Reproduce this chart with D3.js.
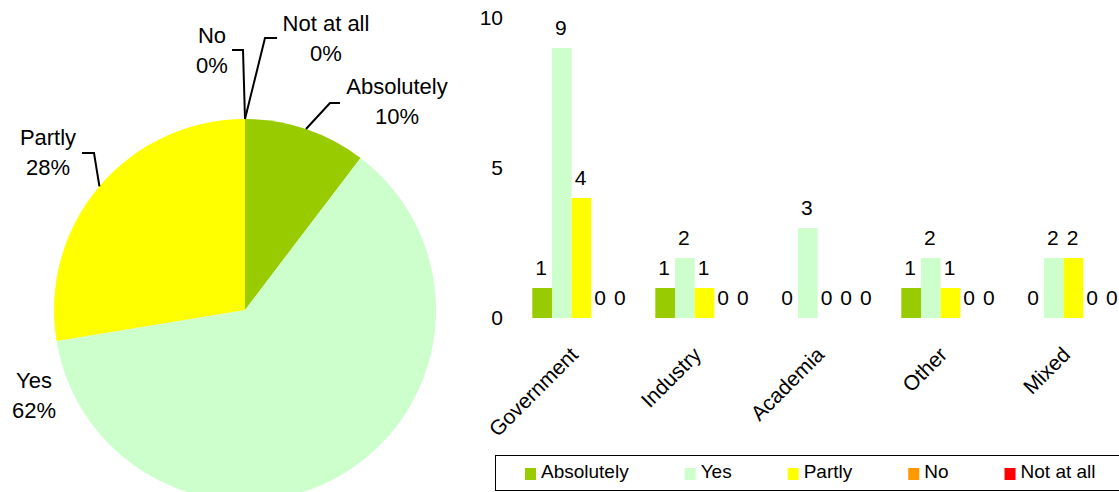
<!DOCTYPE html>
<html lang="en">
<head>
  <meta charset="UTF-8">
  <title>Survey responses - pie and grouped bars</title>
  <script src="https://d3js.org/d3.v7.min.js"></script>
  <style>
    body {
      margin: 0;
      background: #fff;
    }
    svg text {
      font-family: "Liberation Sans", Arial, sans-serif;
      fill: #000;
    }
    .pie-label { font-size: 22px; }
    .val-label { font-size: 21px; }
    .tick text { font-size: 21px; }
    .legend text { font-size: 19px; }
  </style>
</head>
<body>
  <svg width="1119" height="492"></svg>

  <script>
    // data
    const categories = ["Government", "Industry", "Academia", "Other", "Mixed"];
    const seriesNames = ["Absolutely", "Yes", "Partly", "No", "Not at all"];
    const absolutely = [1, 1, 0, 1, 0];
    const yes = [9, 2, 3, 2, 2];
    const partly = [4, 1, 0, 1, 2];
    const no = [0, 0, 0, 0, 0];
    const notAtAll = [0, 0, 0, 0, 0];
    const pieCounts = [3, 18, 8, 0, 0];
    const yTicks = [0, 5, 10];

    const colors = ["#99cc00", "#ccffcc", "#ffff00", "#ff9900", "#ff0000"];
    const seriesValues = [absolutely, yes, partly, no, notAtAll];

    const svg = d3.select("svg");

    // ---------- pie ----------
    const cx = 245, cy = 310, r = 191;
    const pieG = svg.append("g").attr("transform", `translate(${cx},${cy})`);

    const pie = d3.pie().sort(null).value(d => d);
    const arcs = pie(pieCounts);
    const arc = d3.arc().innerRadius(0).outerRadius(r);

    pieG.selectAll("path.slice")
      .data(arcs)
      .enter()
      .append("path")
        .attr("class", "slice")
        .attr("d", arc)
        .attr("fill", (d, i) => colors[i]);

    // label placement relative to the pie centre (hand placed, like the original)
    const labelLayout = {
      "Absolutely": {tx: 152, ty: -216, leader: [[85, -207], [95, -207]]},
      "Yes":        {tx: -211, ty: 78, leader: null},
      "Partly":     {tx: -197, ty: -165, leader: [[-151, -157], [-163, -157]]},
      "No":         {tx: -33, ty: -267, leader: [[-2, -260], [-13, -260]]},
      "Not at all": {tx: 81, ty: -279, leader: [[20, -272], [32, -272]]}
    };

    const total = d3.sum(pieCounts);
    arcs.forEach((a, i) => {
      const name = seriesNames[i];
      const L = labelLayout[name];
      if (L.leader) {
        const mid = (a.startAngle + a.endAngle) / 2;
        const start = [Math.sin(mid) * r, -Math.cos(mid) * r];
        pieG.append("path")
          .attr("d", d3.line()([start, ...L.leader]))
          .attr("fill", "none")
          .attr("stroke", "#000")
          .attr("stroke-width", 2);
      }
      const t = pieG.append("text")
        .attr("class", "pie-label")
        .attr("text-anchor", "middle")
        .attr("x", L.tx)
        .attr("y", L.ty);
      t.append("tspan").attr("x", L.tx).text(name);
      t.append("tspan").attr("x", L.tx).attr("dy", 30)
        .text(Math.round(a.data / total * 100) + "%");
    });

    // ---------- grouped bars ----------
    const x0 = d3.scaleBand()
      .domain(categories)
      .range([520, 1135])
      .paddingInner(0.2)
      .paddingOuter(0.1);

    const x1 = d3.scaleBand()
      .domain(seriesNames)
      .range([0, x0.bandwidth()]);

    const y = d3.scaleLinear().domain([0, 10]).range([318, 18]);

    // y axis labels only
    svg.append("g")
      .attr("transform", "translate(503,0)")
      .call(d3.axisLeft(y).tickValues(yTicks).tickSize(0).tickPadding(0))
      .call(g => g.select(".domain").remove())
      .selectAll("text")
        .attr("font-family", null)
        .attr("font-size", null);

    // category labels
    svg.append("g")
      .attr("transform", "translate(-2,356)")
      .call(d3.axisBottom(x0).tickSize(0))
      .call(g => g.select(".domain").remove())
      .selectAll("text")
        .attr("font-family", null)
        .attr("font-size", null)
        .attr("y", 0)
        .attr("dy", 0)
        .attr("transform", "rotate(-45)")
        .style("text-anchor", "end");

    const barData = [];
    categories.forEach((c, ci) => {
      seriesNames.forEach((s, si) => {
        barData.push({cat: c, series: s, value: seriesValues[si][ci], color: colors[si]});
      });
    });

    svg.selectAll("rect.bar")
      .data(barData)
      .enter()
      .append("rect")
        .attr("class", "bar")
        .attr("x", d => x0(d.cat) + x1(d.series))
        .attr("y", d => y(d.value))
        .attr("width", x1.bandwidth())
        .attr("height", d => y(0) - y(d.value))
        .attr("fill", d => d.color);

    svg.selectAll("text.val-label")
      .data(barData)
      .enter()
      .append("text")
        .attr("class", "val-label")
        .attr("text-anchor", "middle")
        .attr("x", d => x0(d.cat) + x1(d.series) + x1.bandwidth() / 2 - 1)
        .attr("y", d => y(d.value) - 13)
        .text(d => d.value);

    // ---------- legend ----------
    const legend = svg.append("g").attr("class", "legend");
    legend.append("rect")
      .attr("x", 495.5)
      .attr("y", 455.5)
      .attr("width", 640)
      .attr("height", 35)
      .attr("fill", "#fff")
      .attr("stroke", "#000")
      .attr("stroke-width", 1);

    let lx = 525;
    seriesNames.forEach((s, i) => {
      legend.append("rect")
        .attr("x", lx)
        .attr("y", 468)
        .attr("width", 11)
        .attr("height", 12)
        .attr("fill", colors[i]);
      const t = legend.append("text")
        .attr("x", lx + 16)
        .attr("y", 478)
        .text(s);
      lx += 16 + t.node().getComputedTextLength() + 56;
    });
  </script>
</body>
</html>
